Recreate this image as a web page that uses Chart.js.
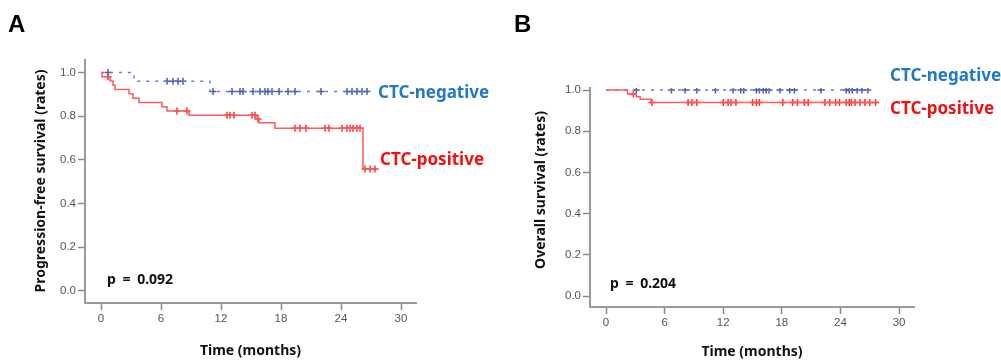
<!DOCTYPE html>
<html lang="en">
<head>
  <meta charset="UTF-8">
  <title>CTC survival curves</title>
  <script src="https://cdn.jsdelivr.net/npm/chart.js"></script>
  <style>
    body { margin: 0; background: #fff; }
    .fig {
      position: relative;
      width: 1001px;
      height: 360px;
      overflow: hidden;
      font-family: 'Noto Sans', sans-serif;
    }
    .panel { position: absolute; top: 0; }
    #panelA { left: 0; }
    #panelB { left: 500px; }
    .txt { position: absolute; white-space: nowrap; font-weight: bold; line-height: 1; }
    .letter { font-family: 'Liberation Sans', Arial, sans-serif; font-size: 24px; color: #000; }
    .ylab { font-size: 14px; color: #111; transform: translate(-50%, -50%) rotate(-90deg); }
    .group { font-size: 17px; transform: translateY(-50%); }
    .neg { color: #1f78c8; }
    .pos { color: #f01010; }
    .pval { font-size: 14px; color: #111; word-spacing: 3px; transform: translateY(-50%); }
  </style>
</head>
<body>
  <div class="fig">
    <canvas id="panelA" class="panel" width="500" height="360"></canvas>
    <canvas id="panelB" class="panel" width="501" height="360"></canvas>

    <div class="txt letter" style="left:8px; top:12px;">A</div>
    <div class="txt letter" style="left:514px; top:12px;">B</div>

    <div class="txt ylab" style="left:40px; top:181px;">Progression-free survival (rates)</div>
    <div class="txt ylab" style="left:540px; top:190px;">Overall survival (rates)</div>

    <div class="txt group neg" style="left:378px; top:91px;">CTC-negative</div>
    <div class="txt group pos" style="left:380px; top:158px;">CTC-positive</div>
    <div class="txt group neg" style="left:890px; top:74px;">CTC-negative</div>
    <div class="txt group pos" style="left:890px; top:107px;">CTC-positive</div>

    <div class="txt pval" style="left:107px; top:279px;">p = 0.092</div>
    <div class="txt pval" style="left:610px; top:283px;">p = 0.204</div>
  </div>

  <script>
    const xTicks = [0, 6, 12, 18, 24, 30];
    const yTicks = [0, 0.2, 0.4, 0.6, 0.8, 1.0];

    // A: progression-free survival
    const pfsPosTimes = [0, 0.1, 0.9, 1.2, 1.4, 2.8, 3.2, 3.8, 6.1, 6.6, 8.8, 15.6, 15.8, 17.4, 26.2, 27.5];
    const pfsPosSurv  = [1, 0.980, 0.961, 0.941, 0.922, 0.902, 0.882, 0.863, 0.843, 0.824, 0.804, 0.787, 0.770, 0.745, 0.558, 0.558];
    const pfsPosCensor = [0.7, 7.6, 8.6, 12.6, 12.9, 13.3, 15.1, 15.4, 15.7, 19.4, 19.9, 20.5, 22.4, 22.8,
                          24.1, 24.6, 24.9, 25.2, 25.6, 25.9, 26.4, 26.9, 27.4];
    const pfsNegTimes = [0, 3.3, 10.9, 26.6];
    const pfsNegSurv  = [1, 0.960, 0.913, 0.913];
    const pfsNegCensor = [0.7, 6.6, 7.2, 7.7, 8.2, 11.2, 13.1, 13.9, 14.2, 15.2, 15.9, 16.4, 16.7, 17.1,
                          17.8, 18.7, 19.4, 22.0, 24.6, 25.1, 25.6, 26.1, 26.6];

    // B: overall survival
    const osPosTimes = [0, 2.2, 3.1, 3.5, 4.6, 27.6];
    const osPosSurv  = [1, 0.981, 0.968, 0.955, 0.940, 0.940];
    const osPosCensor = [2.8, 4.7, 8.4, 8.8, 9.3, 12.0, 12.5, 12.8, 13.3, 15.0, 15.4, 15.7, 18.1, 19.1,
                         19.6, 20.3, 20.7, 22.4, 22.9, 23.5, 23.9, 24.6, 24.9, 25.1, 25.5, 26.0, 26.5, 27.0, 27.6];
    const osNegTimes = [0, 26.8];
    const osNegSurv  = [1, 1];
    const osNegCensor = [3.1, 6.7, 8.1, 9.3, 11.2, 13.0, 13.8, 14.1, 15.4, 15.7, 16.1, 16.4, 16.7, 17.8,
                         18.8, 19.3, 22.0, 24.6, 24.9, 25.2, 25.7, 26.2, 26.8];

    const RED_LINE = '#ff5a5a', RED_MARK = '#ff3030';
    const BLUE_LINE = '#6f7fc8', BLUE_MARK = '#4a5db5';

    // survival value of a step curve at time t
    function stepAt(times, surv, t) {
      let s = surv[0];
      for (let i = 0; i < times.length; i++) if (times[i] <= t) s = surv[i];
      return s;
    }
    const curve = (times, surv) => times.map((t, i) => ({ x: t, y: surv[i] }));
    const marks = (cens, times, surv) => cens.map(t => ({ x: t, y: stepAt(times, surv, t) }));

    function lineSet(data, color, dash) {
      return { data, showLine: true, stepped: true, borderColor: color, borderWidth: 1.5,
               borderDash: dash, pointRadius: 0, fill: false };
    }
    function markSet(data, color) {
      return { data, showLine: false, pointStyle: 'cross', pointRadius: 3.5,
               pointBorderColor: color, pointBorderWidth: 1.5, pointBackgroundColor: color };
    }

    function makeKM(id, p) {
      new Chart(document.getElementById(id), {
        type: 'scatter',
        data: { datasets: p.datasets },
        options: {
          responsive: false,
          animation: false,
          layout: { padding: { left: 0, right: p.padRight, top: p.padTop, bottom: 0 } },
          plugins: { legend: { display: false }, tooltip: { enabled: false } },
          scales: {
            x: {
              type: 'linear', min: p.xMin, max: p.xMax,
              afterBuildTicks: s => { s.ticks = xTicks.map(v => ({ value: v })); },
              afterFit: s => { s.height = p.xHeight; },
              grid: { display: true, drawOnChartArea: false, drawTicks: true, tickLength: 7,
                      tickColor: '#8a8a8a', tickWidth: 1.5 },
              border: { display: true, color: '#9a9a9a', width: 2 },
              ticks: { color: '#555', font: { family: 'Liberation Sans', size: 11.5 }, padding: 2,
                       maxRotation: 0, autoSkip: false },
              title: { display: true, text: 'Time (months)', color: '#111',
                       font: { family: 'Noto Sans', size: 14, weight: 'bold' },
                       padding: { top: 0, bottom: p.titlePad } }
            },
            y: {
              type: 'linear', min: p.yMin, max: p.yMax,
              afterBuildTicks: s => { s.ticks = yTicks.map(v => ({ value: v })); },
              afterFit: s => { s.width = p.yWidth; },
              grid: { display: true, drawOnChartArea: false, drawTicks: true, tickLength: 7,
                      tickColor: '#8a8a8a', tickWidth: 1.5 },
              border: { display: true, color: '#9a9a9a', width: 2 },
              ticks: { color: '#555', font: { family: 'Liberation Sans', size: 11.5 }, padding: 2,
                       callback: v => v.toFixed(1) }
            }
          }
        }
      });
    }

    makeKM('panelA', {
      padRight: 84, padTop: 60, xHeight: 57, yWidth: 85, titlePad: 1,
      xMin: -1.6, xMax: 31.5, yMin: -0.055, yMax: 1.057,
      datasets: [
        lineSet(curve(pfsPosTimes, pfsPosSurv), RED_LINE, []),
        markSet(marks(pfsPosCensor, pfsPosTimes, pfsPosSurv), RED_MARK),
        lineSet(curve(pfsNegTimes, pfsNegSurv), BLUE_LINE, [3, 6]),
        markSet(marks(pfsNegCensor, pfsNegTimes, pfsNegSurv), BLUE_MARK)
      ]
    });

    makeKM('panelB', {
      padRight: 87, padTop: 88, xHeight: 53, yWidth: 90, titlePad: 0,
      xMin: -1.64, xMax: 31.53, yMin: -0.053, yMax: 1.01,
      datasets: [
        lineSet(curve(osPosTimes, osPosSurv), RED_LINE, []),
        markSet(marks(osPosCensor, osPosTimes, osPosSurv), RED_MARK),
        lineSet(curve(osNegTimes, osNegSurv), BLUE_LINE, [3, 6]),
        markSet(marks(osNegCensor, osNegTimes, osNegSurv), BLUE_MARK)
      ]
    });
  </script>
</body>
</html>
